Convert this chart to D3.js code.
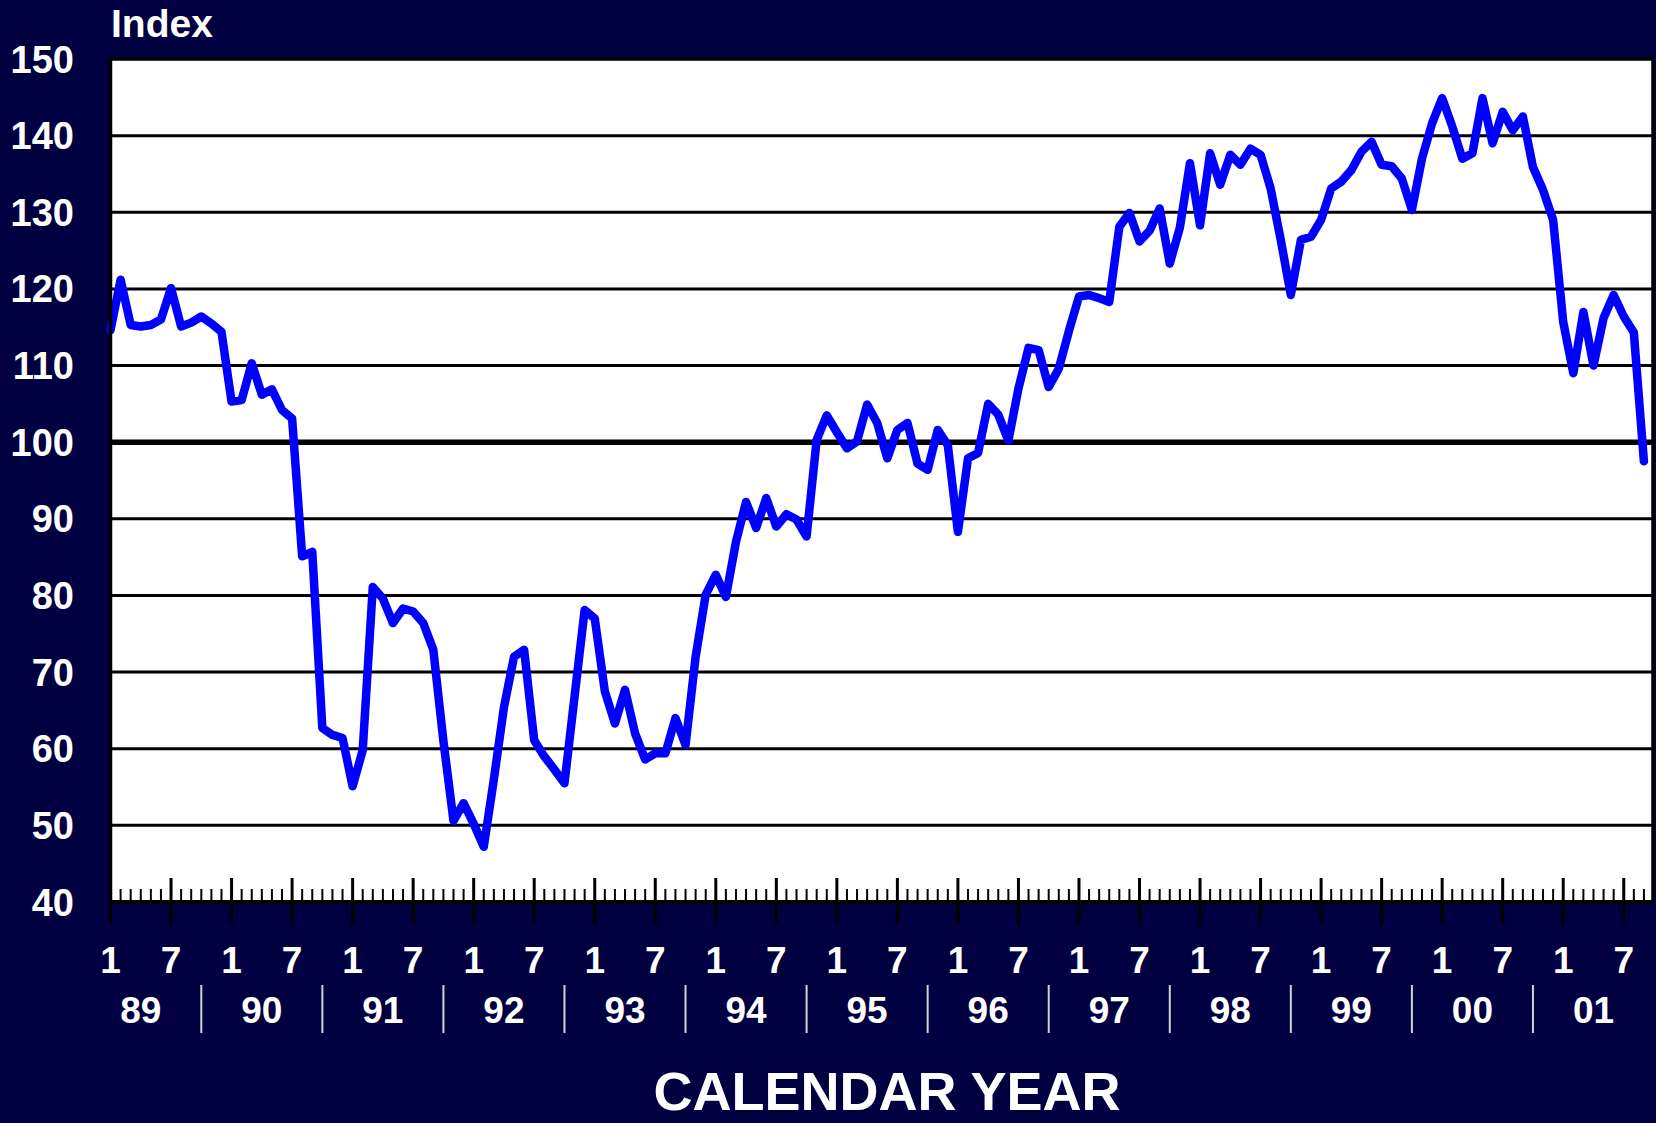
<!DOCTYPE html>
<html>
<head>
<meta charset="utf-8">
<script src="https://cdn.jsdelivr.net/npm/d3@7"></script>
<style>
  html, body { margin: 0; padding: 0; background: #000040; }
  svg { display: block; }
  text { font-family: "Liberation Sans", Arial, sans-serif; font-weight: bold; fill: #fff; }
</style>
</head>
<body>
<div id="chart"></div>
<script>
// monthly index, Jan 1989 .. Sep 2001
const startYear = 1989;
const indexValues = [
  114.6, 121.2, 115.3, 115.1, 115.3, 116.0, 120.1, 115.1, 115.6, 116.4, 115.5, 114.4, // 89
  105.3, 105.5, 110.3, 106.2, 106.9, 104.2, 103.1, 85.1, 85.7, 62.7, 61.8, 61.4,      // 90
  55.1, 59.8, 81.1, 79.6, 76.4, 78.3, 77.9, 76.4, 72.9, 61.0, 50.6, 52.9,             // 91
  50.2, 47.2, 56.0, 65.4, 72.0, 72.9, 61.1, 59.0, 57.3, 55.5, 66.8, 78.1,             // 92
  77.0, 67.5, 63.3, 67.7, 62.0, 58.6, 59.4, 59.4, 64.0, 60.5, 72.0, 80.1,             // 93
  82.7, 79.8, 87.0, 92.2, 88.8, 92.7, 89.0, 90.6, 89.9, 87.7, 100.3, 103.5,           // 94
  101.3, 99.2, 100.1, 104.9, 102.5, 97.9, 101.6, 102.5, 97.2, 96.4, 101.6, 99.6,      // 95
  88.3, 97.9, 98.6, 105.0, 103.6, 100.2, 107.0, 112.3, 112.0, 107.2, 109.6, 114.5,    // 96
  119.0, 119.2, 118.8, 118.3, 128.1, 129.9, 126.2, 127.6, 130.5, 123.3, 128.0, 136.4, // 97
  128.3, 137.7, 133.6, 137.5, 136.2, 138.3, 137.5, 133.1, 126.4, 119.2, 126.4, 126.8, // 98
  129.0, 133.1, 134.0, 135.5, 137.9, 139.2, 136.2, 136.0, 134.4, 130.3, 137.0, 141.6, // 99
  144.9, 141.2, 137.0, 137.7, 144.9, 139.0, 143.1, 140.7, 142.5, 135.9, 132.9, 129.0, // 00
  115.7, 109.0, 117.0, 110.0, 116.2, 119.2, 116.4, 114.3, 97.5                        // 01
];
const yTicks = [40, 50, 60, 70, 80, 90, 100, 110, 120, 130, 140, 150];
const monthLabels = ["1", "7"];
const yearLabels = ["89", "90", "91", "92", "93", "94", "95", "96", "97", "98", "99", "00", "01"];

const W = 1656, H = 1123;
const plot = { left: 110.5, right: 1653, top: 59, bottom: 902 };

const svg = d3.select("#chart").append("svg")
  .attr("width", W)
  .attr("height", H);

svg.append("rect").attr("width", W).attr("height", H).attr("fill", "#000040");

const x = d3.scaleLinear()
  .domain([0, 152.9])
  .range([plot.left, plot.right]);

const y = d3.scaleLinear()
  .domain([40, 150])
  .range([plot.bottom, plot.top]);

// plot area
svg.append("rect")
  .attr("x", plot.left).attr("y", plot.top)
  .attr("width", plot.right - plot.left)
  .attr("height", plot.bottom - plot.top)
  .attr("fill", "#fff");

// gridlines
svg.append("g")
  .selectAll("line")
  .data(yTicks.filter(d => d > 40 && d < 150))
  .enter().append("line")
  .attr("x1", plot.left).attr("x2", plot.right)
  .attr("y1", d => y(d)).attr("y2", d => y(d))
  .attr("stroke", "#000")
  .attr("stroke-width", d => d === 100 ? 5.5 : 3);

// y labels
svg.append("g")
  .selectAll("text")
  .data(yTicks)
  .enter().append("text")
  .attr("x", 74)
  .attr("y", d => y(d) + 13.5)
  .attr("text-anchor", "end")
  .style("font-size", "38px")
  .text(d => d);

svg.append("text")
  .attr("x", 111)
  .attr("y", 37)
  .style("font-size", "39px")
  .text("Index");

// series
const line = d3.line()
  .x((d, i) => x(i))
  .y(d => y(d));

svg.append("path")
  .datum(indexValues)
  .attr("fill", "none")
  .attr("stroke", "#0000ff")
  .attr("stroke-width", 8.5)
  .attr("stroke-linejoin", "round")
  .attr("stroke-linecap", "round")
  .attr("d", line);

// frame
svg.append("path")
  .attr("d", `M${plot.left},${plot.bottom} V${plot.top} H${plot.right} V${plot.bottom}`)
  .attr("fill", "none")
  .attr("stroke", "#000")
  .attr("stroke-width", 3.5);

// month ticks (minor every month, major at 1 and 7)
const months = d3.range(0, indexValues.length);
svg.append("g")
  .selectAll("line")
  .data(months)
  .enter().append("line")
  .attr("x1", d => x(d)).attr("x2", d => x(d))
  .attr("y1", d => d % 6 === 0 ? plot.bottom - 24 : plot.bottom - 13)
  .attr("y2", d => d % 6 === 0 ? plot.bottom + 23 : plot.bottom)
  .attr("stroke", "#000")
  .attr("stroke-width", d => d % 6 === 0 ? 3 : 2);

// x axis line
svg.append("line")
  .attr("x1", plot.left - 1.5).attr("x2", plot.right + 1.5)
  .attr("y1", plot.bottom).attr("y2", plot.bottom)
  .attr("stroke", "#000")
  .attr("stroke-width", 4);

// month labels
const monthTicks = d3.range(0, indexValues.length, 6);
svg.append("g")
  .selectAll("text")
  .data(monthTicks)
  .enter().append("text")
  .attr("x", d => x(d))
  .attr("y", 973)
  .attr("text-anchor", "middle")
  .style("font-size", "37px")
  .text(d => monthLabels[(d / 6) % 2]);

// year labels + separators
svg.append("g")
  .selectAll("text")
  .data(yearLabels)
  .enter().append("text")
  .attr("x", (d, i) => x(i * 12 + 3))
  .attr("y", 1023)
  .attr("text-anchor", "middle")
  .style("font-size", "37px")
  .text(d => d);

svg.append("g")
  .selectAll("line")
  .data(yearLabels.slice(1))
  .enter().append("line")
  .attr("x1", (d, i) => x(i * 12 + 9)).attr("x2", (d, i) => x(i * 12 + 9))
  .attr("y1", 985).attr("y2", 1033)
  .attr("stroke", "#d0d0d8")
  .attr("stroke-width", 2);

svg.append("text")
  .attr("x", 887)
  .attr("y", 1110)
  .attr("text-anchor", "middle")
  .style("font-size", "54px")
  .text("CALENDAR YEAR");
</script>
</body>
</html>
